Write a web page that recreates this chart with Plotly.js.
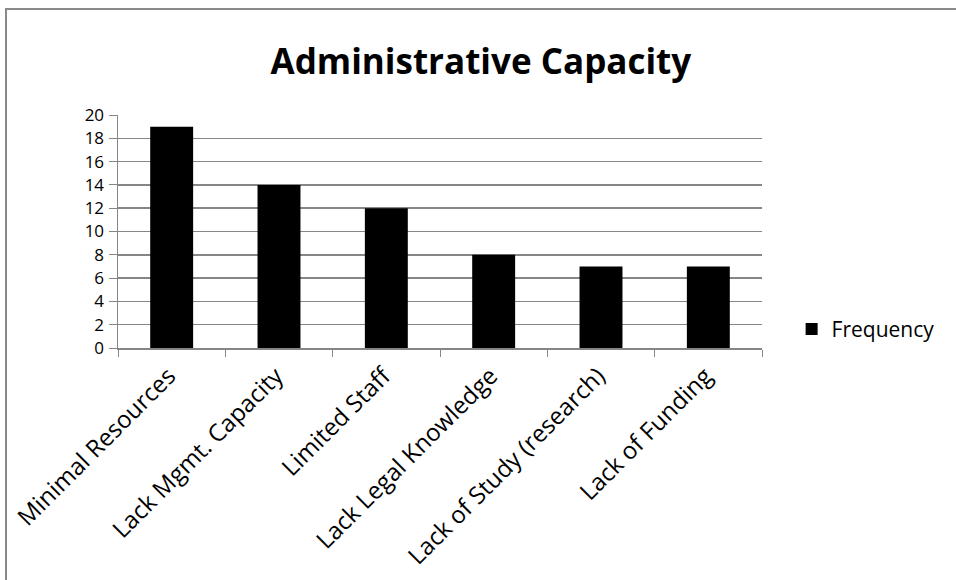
<!DOCTYPE html>
<html>
<head>
<meta charset="utf-8">
<script src="https://cdn.plot.ly/plotly-3.0.1.min.js"></script>
<style>html,body{margin:0;padding:0;background:#fff;}#chart{width:956px;height:580px;}</style>
</head>
<body>
<div id="chart"></div>
<script>
const categories = ["Minimal Resources", "Lack Mgmt. Capacity", "Limited Staff", "Lack Legal Knowledge", "Lack of Study (research)", "Lack of Funding"];
const frequency = [19, 14, 12, 8, 7, 7];
const yTicks = [0, 2, 4, 6, 8, 10, 12, 14, 16, 18, 20];
const seriesName = "Frequency";
const chartTitle = "Administrative Capacity";

const font = "'Open Sans', sans-serif";
const data = [{
  type: "bar",
  x: categories,
  y: frequency,
  name: seriesName,
  marker: {color: "#000000", line: {width: 0}},
  showlegend: true
}];
const layout = {
  width: 956, height: 580,
  margin: {l: 118, r: 194, t: 115, b: 232},
  paper_bgcolor: "#fff", plot_bgcolor: "#fff",
  font: {family: font, color: "#000", size: 21},
  title: {text: "<b>" + chartTitle + "</b>", x: 0.503, xref: "container", xanchor: "center", y: 0.893, yanchor: "middle", font: {size: 35, family: font, color: "#000"}},
  bargap: 0.6,
  showlegend: true,
  legend: {x: 1.046, y: 0.08, xanchor: "left", yanchor: "middle", font: {size: 21, family: font}, itemwidth: 30, bgcolor: "rgba(0,0,0,0)"},
  xaxis: {
    type: "category", tickangle: -45, ticks: "outside", tickson: "boundaries", ticklen: 7, tickcolor: "#868686",
    showline: true, linecolor: "#868686", linewidth: 1.5, showgrid: false, tickfont: {size: 24, family: font},
    automargin: false, ticklabelshift: -3, ticklabelstandoff: 3
  },
  yaxis: {
    range: [0, 20], tickvals: yTicks, ticks: "outside", ticklen: 8, tickcolor: "#868686",
    showline: true, linecolor: "#868686", linewidth: 1.5, showgrid: true, gridcolor: "#868686", gridwidth: 1.5,
    zeroline: false, tickfont: {size: 17, family: font}, automargin: false, ticklabelstandoff: 1
  },
  shapes: [{
    type: "rect", xref: "paper", yref: "paper",
    x0: (6 - 118) / 644, x1: (970 - 118) / 644, y0: (348 - 600) / 233, y1: (348 - 9) / 233,
    line: {color: "#898989", width: 2}, fillcolor: "rgba(0,0,0,0)", layer: "below"
  }]
};
Plotly.newPlot("chart", data, layout, {staticPlot: true, displayModeBar: false});
</script>
</body>
</html>
